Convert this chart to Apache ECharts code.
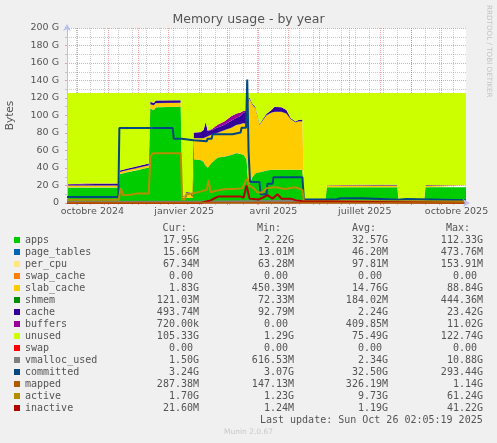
<!DOCTYPE html>
<html><head><meta charset="utf-8">
<script src="https://cdn.jsdelivr.net/npm/echarts@6/dist/echarts.min.js"></script>
<style>html,body{margin:0;padding:0;background:#f0f0f0}#c{width:497px;height:443px}</style>
</head><body><div id="c"></div>
<script>
// x values are days since 2024-09-21 (day 400 = 2025-10-26, last update)
const days = [0,17,18,52,53,60,70,82,83.5,87,89,114,115.5,118,119,124,125,126,127,134,137,139,141,145,151,158,165,170,174,177,180,181.5,183,186,189,193,196,200,205,208,215,220,224,229,232,236,237.5,259,260.5,290,292,331,332.5,358,359.5,400];
// stacked series values (GB)
const apps = [17.8,17.8,17.8,17.8,33,35,37.5,40.5,108,106,109.5,110,6,6,6,6,6,6,50,49,47,42,40,46,52,53,55,57,56,55,50,25,22,30,34,35,36,37,38,38,38,38,38,38,38,38,2.5,2.5,18,18,18,18,2.5,2.5,18,17.95];
const page_tables = [0.03,0.03,0.03,0.03,0.03,0.03,0.03,0.03,0.03,0.03,0.03,0.03,0.03,0.03,0.03,0.03,0.03,0.03,0.03,0.03,0.03,0.03,0.03,0.03,0.03,0.03,0.03,0.03,0.03,0.03,0.03,0.03,0.03,0.03,0.03,0.03,0.03,0.03,0.03,0.03,0.03,0.03,0.03,0.03,0.03,0.03,0.03,0.03,0.03,0.03,0.03,0.03,0.03,0.03,0.03,0.016];
const per_cpu = [0.1,0.1,0.1,0.1,0.1,0.1,0.1,0.1,0.1,0.1,0.1,0.1,0.1,0.1,0.1,0.1,0.1,0.1,0.1,0.1,0.1,0.1,0.1,0.1,0.1,0.1,0.1,0.1,0.1,0.1,0.1,0.1,0.1,0.1,0.1,0.1,0.1,0.1,0.1,0.1,0.1,0.1,0.1,0.1,0.1,0.1,0.1,0.1,0.1,0.1,0.1,0.1,0.1,0.1,0.1,0.067];
const swap_cache = [0,0,0,0,0,0,0,0,0,0,0,0,0,0,0,0,0,0,0,0,0,0,0,0,0,0,0,0,0,0,0,0,0,0,0,0,0,0,0,0,0,0,0,0,0,0,0,0,0,0,0,0,0,0,0,0];
const slab_cache = [2,2,2,2,2.2,2.2,2.2,2.2,4.5,5.5,4.5,4.3,1,1.5,5.5,5,1,1,24,25,27,33,36,32,28,30,31,32,34,36,40,90,97,82,74,54,58,63,65,66,66,64,58,54,55,55,1.8,1.8,1.8,1.8,1.8,1.8,1.6,1.6,1.8,1.83];
const shmem = [0.18,0.18,0.18,0.18,0.18,0.18,0.18,0.18,0.18,0.18,0.18,0.18,0.18,0.18,0.18,0.18,0.18,0.18,0.18,0.18,0.18,0.18,0.18,0.18,0.18,0.18,0.18,0.18,0.18,0.18,0.18,0.18,0.18,0.18,0.18,0.18,0.18,0.18,0.18,0.18,0.18,0.18,0.18,0.18,0.18,0.18,0.18,0.18,0.18,0.18,0.18,0.18,0.18,0.18,0.18,0.12];
const cache = [1.4,1.4,2.3,2.3,1.5,1.6,1.8,2,2.8,2.5,2.8,2.8,0.8,0.8,0.8,0.8,0.6,0.6,6,6.5,9,17,6,5,6,6,8,8,9,12,14,2,1,1,1,0.8,1,1.5,3,5.5,5,4,1,0.8,1.5,2,0.3,0.3,0.3,0.3,0.8,0.8,0.2,0.2,0.5,0.49];
const buffers = [0,0,0,0,0.1,0.1,0.1,0.1,0.1,0.1,0.1,0.1,0,0,0,0,0,0,0.3,0.3,0.5,0.5,0.5,1,3,4,5,5,4,2,1,0.5,0.2,0.2,0.1,0.1,0.1,0.1,0.1,0.1,0.1,0.1,0.1,0.1,0.1,0.1,0,0,0,0,0,0,0,0,0,0.0007];
const unused = [104.29,104.29,103.39,103.39,88.69,86.59,83.89,80.69,10.09,11.39,8.59,8.29,117.69,117.19,113.19,113.69,117.89,117.89,45.19,44.69,41.99,32.99,42.99,41.49,36.49,32.49,26.49,23.49,22.49,20.49,20.49,7.99,5.29,12.29,16.39,35.59,30.39,23.89,19.39,15.89,16.39,19.39,28.39,32.59,30.89,30.39,120.89,120.89,105.39,105.39,104.89,104.89,121.19,121.19,105.19,105.22];
const swap = [0,0,0,0,0,0,0,0,0,0,0,0,0,0,0,0,0,0,0,0,0,0,0,0,0,0,0,0,0,0,0,0,0,0,0,0,0,0,0,0,0,0,0,0,0,0,0,0,0,0,0,0,0,0,0,0];
// line series [day, GB]
const vmalloc_used = [[0,1.4],[127,1.4],[128,2.5],[236,2.5],[237.5,1.5],[400,1.5]];
const committed = [[0,7],[51.5,7],[52.5,85.7],[106,85.7],[107,73.5],[115,73.5],[116,71.6],[127,71.6],[128,70.5],[140,70.5],[141,73.5],[145,73.5],[146,78.5],[166,78.5],[167,80.5],[174,80.5],[175,86],[179.5,86],[180.7,141],[182,60],[183.5,24],[193,24],[194,10],[200,10],[201,22],[206,22],[207,29.5],[236,29.5],[237.5,4],[270,4],[274,5.5],[296,5.5],[298,3.8],[332,3.8],[334,4.5],[340,4.5],[342,3.5],[400,3.24]];
const mapped = [[0,0.3],[400,0.29]];
const active = [[0,3.7],[52,3.7],[53,12],[54,17],[56,9],[64,9.5],[70,11],[82,11],[83.5,52],[86,57],[114,57],[115.5,4],[118,4],[120,10],[126,11],[127,12],[134,13],[140,15],[142,26],[144,12],[149,14],[159,16],[169,16],[176,17],[179,25],[181,28],[182,20],[186,18],[191,12],[196,12],[200,17],[209,18],[219,16],[229,18],[236,15],[237.5,2.2],[300,2.0],[400,1.7]];
const inactive = [[0,0.01],[134,0.01],[136,1.5],[144,3],[149,6],[152,7.5],[174,7.5],[177,6],[180,20],[183,5],[192,4],[196,6],[201,9],[206,5],[211,10],[215,5],[224,5],[230,3],[236,2],[237.5,0.02],[400,0.02]];
// axis ticks / labels (in days)
const monthLabels = ['octobre 2024','janvier 2025','avril 2025','juillet 2025','octobre 2025'];
const monthLabelDays = [25.5,117.5,207,298.5,390.5];
const monthStartDays = [10,41,71,102,133,161,192,222,253,283,314,345,375];
const biweeklyDays = [9,23,37,51,65,79,93,107,121,135,149,163,177,191,205,219,233,247,261,275,289,303,317,331,345,359,373,387];
// legend table
const legendNames = ['apps','page_tables','per_cpu','swap_cache','slab_cache','shmem','cache','buffers','unused','swap','vmalloc_used','committed','mapped','active','inactive'];
const legendColors = ['#00CC00','#0066B3','#FFE680','#FF8000','#FFCC00','#008F00','#330099','#990099','#CCFF00','#FF0000','#808080','#00487D','#B35A00','#B38F00','#B30000'];
const curValues = ['17.95G','15.66M','67.34M','0.00','1.83G','121.03M','493.74M','720.00k','105.33G','0.00','1.50G','3.24G','287.38M','1.70G','21.60M'];
const minValues = ['2.22G','13.01M','63.28M','0.00','450.39M','72.33M','92.79M','0.00','1.29G','0.00','616.53M','3.07G','147.13M','1.23G','1.24M'];
const avgValues = ['32.57G','46.20M','97.81M','0.00','14.76G','184.02M','2.24G','409.85M','75.49G','0.00','2.34G','32.50G','326.19M','9.73G','1.19G'];
const maxValues = ['112.33G','473.76M','153.91M','0.00','88.84G','444.36M','23.42G','11.02G','122.74G','0.00','10.88G','293.44G','1.14G','61.24G','41.22G'];

const T0 = Date.UTC(2024, 8, 21);
const DAY = 86400000;
const toTime = d => T0 + d * DAY;

const stackedData = {apps, page_tables, per_cpu, swap_cache, slab_cache, shmem, cache, buffers, unused, swap};
// drawing order of the lines (mapped last so near-zero lines stay under it at the baseline)
const lineData = {vmalloc_used, committed, active, inactive, mapped};

const AXIS_COLOR = '#b8c0ee';
const GRID_MAJOR = 'rgba(230,90,90,0.55)';
const GRID_MINOR = 'rgba(140,140,140,0.45)';
const TEXT = '#555';
const colorOf = n => legendColors[legendNames.indexOf(n)];

const series = [];
Object.keys(stackedData).forEach(name => {
  const vals = stackedData[name];
  series.push({
    name, type: 'line', stack: 'mem', symbol: 'none', showSymbol: false,
    xAxisIndex: 0, yAxisIndex: 0,
    data: days.map((d, i) => [toTime(d), vals[i]]),
    lineStyle: {width: 0, color: colorOf(name)},
    itemStyle: {color: colorOf(name)},
    areaStyle: {color: colorOf(name), opacity: 1},
    emphasis: {disabled: true}, silent: true
  });
});
Object.keys(lineData).forEach(name => {
  series.push({
    name, type: 'line', symbol: 'none', showSymbol: false,
    xAxisIndex: 0, yAxisIndex: 0, clip: true,
    data: lineData[name].map(p => [toTime(p[0]), p[1]]),
    lineStyle: {width: 2, color: colorOf(name)},
    itemStyle: {color: colorOf(name)},
    emphasis: {disabled: true}, silent: true
  });
});

const fmtVal = s => /[0-9]$/.test(s) ? s + '\u00a0' : s;
const richBase = {fontFamily: 'DejaVu Sans Mono', fontSize: 10, color: TEXT, lineHeight: 12};
const txt = (x, y, text, extra) => ({type: 'text', x, y, silent: true, style: Object.assign({text, fontSize: 10, fontFamily: 'DejaVu Sans Mono', fill: TEXT, align: 'right', verticalAlign: 'middle', textAlign: 'right', textVerticalAlign: 'middle'}, extra || {})});

const chart = echarts.init(document.getElementById('c'), null, {renderer: 'canvas'});
chart.setOption({
  animation: false,
  backgroundColor: '#f0f0f0',
  grid: {left: 67, right: 31, top: 28, bottom: 240, show: true, backgroundColor: '#ffffff', borderWidth: 0, containLabel: false, outerBoundsMode: 'none'},
  xAxis: [
    {type: 'time', min: toTime(0), max: toTime(400), position: 'bottom', z: 3,
     axisLine: {show: true, onZero: false, lineStyle: {color: AXIS_COLOR, width: 1}, symbol: ['none', 'arrow'], symbolSize: [6, 7], symbolOffset: [0, 4]},
     axisTick: {show: false}, splitLine: {show: false}, axisLabel: {show: false}},
    {type: 'value', min: 0, max: 400, position: 'bottom', z: 3,
     axisLine: {show: false}, axisLabel: {show: false},
     axisTick: {show: true, customValues: biweeklyDays, length: 2, lineStyle: {color: GRID_MINOR}},
     splitLine: {show: true, lineStyle: {color: GRID_MINOR, width: 1, type: [1, 1]}}},
    {type: 'value', min: 0, max: 400, position: 'bottom', z: 3,
     axisLine: {show: false},
     axisTick: {show: true, customValues: monthStartDays, length: 2, lineStyle: {color: GRID_MAJOR}},
     splitLine: {show: true, lineStyle: {color: GRID_MAJOR, width: 1, type: [1, 1]}},
     axisLabel: {customValues: monthLabelDays, formatter: v => monthLabels[monthLabelDays.indexOf(v)] || '', color: TEXT, fontSize: 9.5, fontFamily: 'DejaVu Sans', margin: 4, hideOverlap: false}}
  ],
  yAxis: {
    type: 'value', min: 0, max: 200, interval: 20, z: 3,
    name: 'Bytes', nameLocation: 'middle', nameGap: 51,
    nameTextStyle: {color: TEXT, fontSize: 10.5, fontFamily: 'DejaVu Sans'},
    axisLine: {show: true, lineStyle: {color: AXIS_COLOR, width: 1}, symbol: ['none', 'arrow'], symbolSize: [6, 7], symbolOffset: [0, 4]},
    axisTick: {show: true, length: 2, lineStyle: {color: GRID_MAJOR}},
    minorTick: {show: true, splitNumber: 2, length: 2, lineStyle: {color: GRID_MINOR}},
    splitLine: {show: true, lineStyle: {color: GRID_MAJOR, width: 1, type: [1, 1]}},
    minorSplitLine: {show: true, lineStyle: {color: GRID_MINOR, width: 1, type: [1, 1]}},
    axisLabel: {formatter: v => v === 0 ? '0' : v + ' G', color: TEXT, fontSize: 9.5, fontFamily: 'DejaVu Sans', margin: 8}
  },
  legend: {
    orient: 'vertical', left: 14, top: 234, padding: 0,
    itemWidth: 6, itemHeight: 6, itemGap: 0, icon: 'rect', selectedMode: false,
    data: legendNames,
    textStyle: Object.assign({}, richBase, {rich: {
      n: Object.assign({width: 101}, richBase),
      c: Object.assign({width: 73, align: 'right'}, richBase),
      m: Object.assign({width: 95, align: 'right'}, richBase),
      a: Object.assign({width: 94, align: 'right'}, richBase),
      x: Object.assign({width: 95, align: 'right'}, richBase)
    }}),
    formatter: name => {
      const i = legendNames.indexOf(name);
      return '{n|' + name + '}{c|' + fmtVal(curValues[i]) + '}{m|' + fmtVal(minValues[i]) + '}{a|' + fmtVal(avgValues[i]) + '}{x|' + fmtVal(maxValues[i]) + '}';
    }
  },
  graphic: [
    txt(248.5, 19.5, 'Memory usage - by year', {fontSize: 12.5, fontFamily: 'DejaVu Sans', align: 'center', textAlign: 'center'}),
    Object.assign(txt(489, 5, 'RRDTOOL / TOBI OETIKER', {fontSize: 7.2, fontFamily: 'DejaVu Sans', fill: '#c4c4c4', align: 'left', textAlign: 'left'}), {rotation: -Math.PI / 2}),
    txt(186.7, 228, 'Cur:'),
    txt(281, 228, 'Min:'),
    txt(376, 228, 'Avg:'),
    txt(470, 228, 'Max:'),
    txt(482.7, 420, 'Last update: Sun Oct 26 02:05:19 2025'),
    txt(248.5, 432, 'Munin 2.0.67', {fontSize: 7.5, fontFamily: 'DejaVu Sans', fill: '#c8c8c8', align: 'center', textAlign: 'center'})
  ],
  series
});
</script>
</body></html>
